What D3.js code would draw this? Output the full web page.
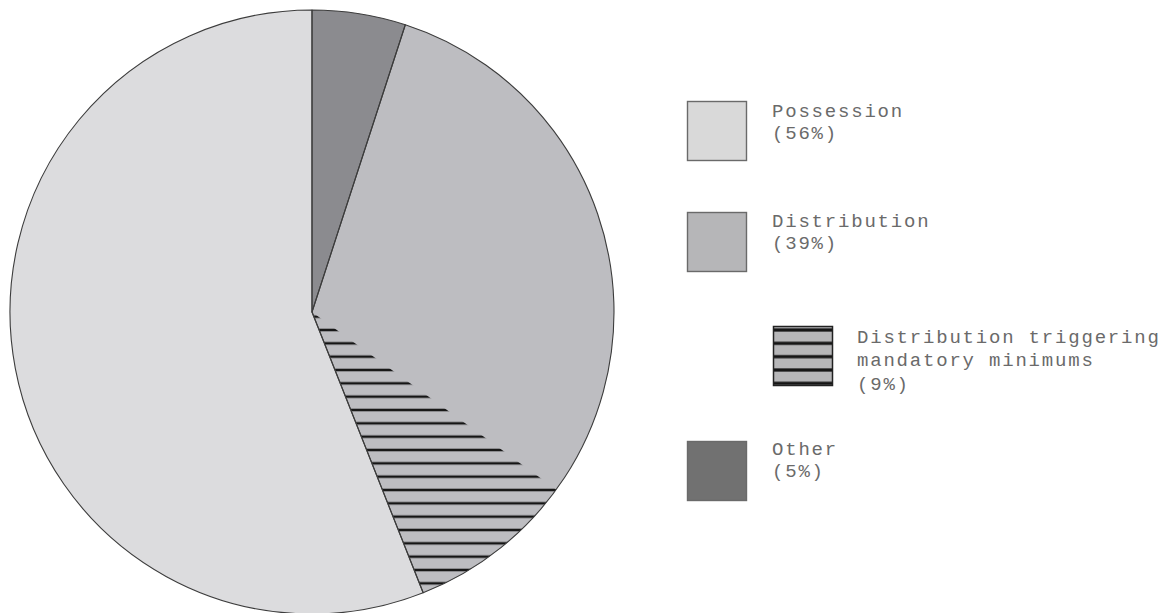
<!DOCTYPE html>
<html>
<head>
<meta charset="utf-8">
<script src="https://cdn.jsdelivr.net/npm/d3@7"></script>
<style>
  html, body { margin: 0; padding: 0; background: #ffffff; }
  svg { display: block; }
</style>
</head>
<body>
<svg id="chart" width="1176" height="613"></svg>
<script>
// Drug offence breakdown (percent of cases)
const sliceNames = ["Other", "Distribution", "Possession"];
const sliceValues = [5, 39, 56];
// Share of all cases that are distribution offences triggering mandatory minimums
// (a part of the Distribution slice)
const mandatoryName = "Distribution triggering mandatory minimums";
const mandatoryValue = 9;

// Legend entries, top to bottom
const legendKeys = ["Possession", "Distribution", "Mandatory", "Other"];
const legendLines = [
  ["Possession", "(56%)"],
  ["Distribution", "(39%)"],
  ["Distribution triggering", "mandatory minimums", "(9%)"],
  ["Other", "(5%)"]
];

const W = 1176, H = 613;
const cx = 312, cy = 312, R = 302;

const pieFill = { Other: "#8b8b8f", Distribution: "#bdbdc1", Possession: "#dcdcde" };
const keyFill = { Other: "#717171", Distribution: "#b6b6b8", Possession: "#d9d9d9" };

const svg = d3.select("#chart");
const defs = svg.append("defs");

// horizontal hatching; stripes fall on the same rows in pie and legend
const period = 40 / 3;
const stripeRow0 = 330;
function hatch(id, originY, thickness, bg) {
  const off = ((stripeRow0 - originY) % period + period) % period;
  const p = defs.append("pattern")
    .attr("id", id)
    .attr("patternUnits", "userSpaceOnUse")
    .attr("width", 20).attr("height", period)
    .attr("y", off - period / 2);
  p.append("rect").attr("width", 20).attr("height", period).attr("fill", bg);
  p.append("rect").attr("x", 0).attr("y", period / 2 - thickness / 2)
    .attr("width", 20).attr("height", thickness).attr("fill", "#151515");
}
hatch("hatchPie", cy, 2.5, pieFill.Distribution);
hatch("hatchKey", 0, 3.2, keyFill.Distribution);

// ---- pie ----
const pie = d3.pie().sort(null).value(d => d.value).startAngle(0).endAngle(2 * Math.PI);
const arcs = pie(sliceNames.map((n, i) => ({ name: n, value: sliceValues[i] })));
const arc = d3.arc().innerRadius(0).outerRadius(R);

const g = svg.append("g").attr("transform", `translate(${cx},${cy})`);

g.selectAll("path.slice")
  .data(arcs)
  .join("path")
  .attr("class", "slice")
  .attr("d", arc)
  .attr("fill", d => pieFill[d.data.name])
  .attr("stroke", "none");

// hatched sub-wedge at the clockwise end of the Distribution slice
const dist = arcs.find(a => a.data.name === "Distribution");
const total = d3.sum(sliceValues);
const mandatoryArc = {
  startAngle: dist.endAngle - (mandatoryValue / total) * 2 * Math.PI,
  endAngle: dist.endAngle
};
g.append("path")
  .attr("d", arc(mandatoryArc))
  .attr("fill", "url(#hatchPie)");

// outline of each slice (the hatched part has no separating edge from its parent slice)
g.selectAll("path.edge")
  .data(arcs)
  .join("path")
  .attr("class", "edge")
  .attr("d", arc)
  .attr("fill", "none")
  .attr("stroke", "#3c3c3c")
  .attr("stroke-width", 1.1)
  .attr("stroke-linejoin", "round");

// ---- legend ----
const keyX = [687, 687, 773, 687];
const keyY = [101, 212, 326, 441];
const textX = [772, 772, 857, 772];
const baselines = [
  [117, 139],
  [227, 249],
  [343, 366, 390],
  [455, 477]
];

const legend = svg.append("g");
legendKeys.forEach((k, i) => {
  legend.append("rect")
    .attr("x", keyX[i] + 0.5).attr("y", keyY[i] + 0.5)
    .attr("width", 59).attr("height", 59)
    .attr("fill", k === "Mandatory" ? "url(#hatchKey)" : keyFill[k])
    .attr("stroke", k === "Mandatory" ? "#222" : "#6a6a6a")
    .attr("stroke-width", k === "Mandatory" ? 1.5 : 1.4);

  const t = legend.append("text")
    .attr("font-family", "'Liberation Mono', 'Courier New', monospace")
    .attr("font-size", 19)
    .attr("letter-spacing", 1.8)
    .attr("fill", "#6a6a6a");
  legendLines[i].forEach((line, j) => {
    t.append("tspan").attr("x", textX[i]).attr("y", baselines[i][j]).text(line);
  });
});
</script>
</body>
</html>
